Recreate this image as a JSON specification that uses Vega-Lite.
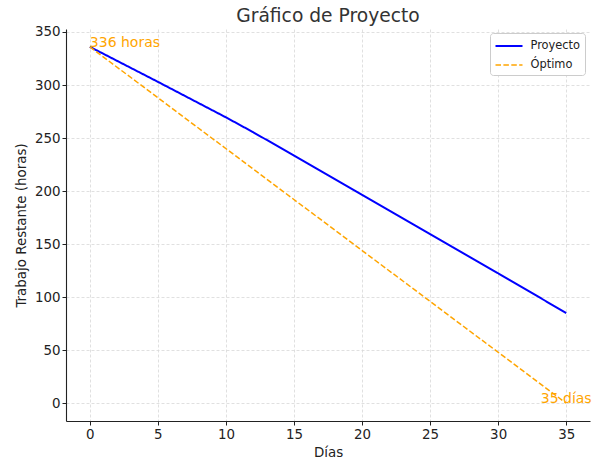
{
  "$schema": "https://vega.github.io/schema/vega-lite/v6.json",
  "width": 524,
  "height": 392,
  "autosize": {"type": "none"},
  "padding": {"left": 66, "top": 29, "right": 2, "bottom": 41},
  "background": "white",
  "title": {"text": "Gráfico de Proyecto", "fontSize": 18.7, "font": "DejaVu Sans", "fontWeight": "normal", "color": "#333333", "offset": -1, "anchor": "middle"},
  "config": {
    "view": {"stroke": null},
    "font": "DejaVu Sans",
    "axis": {
      "domainColor": "#222222", "tickColor": "#222222", "labelColor": "#222222", "titleColor": "#222222",
      "labelFontSize": 13.4, "titleFontSize": 13.4, "titleFontWeight": "normal", "labelFont": "DejaVu Sans", "titleFont": "DejaVu Sans",
      "tickSize": 4, "labelPadding": 2, "gridColor": "#d8d8d8", "gridDash": [3, 2], "gridWidth": 0.8, "domainWidth": 1.1, "tickWidth": 1
    }
  },
  "layer": [
    {
      "data": {"values": [
        {"dia": 0, "horas": 336, "serie": "Proyecto"},
        {"dia": 5, "horas": 303, "serie": "Proyecto"},
        {"dia": 10, "horas": 269.5, "serie": "Proyecto"},
        {"dia": 12, "horas": 255.5, "serie": "Proyecto"},
        {"dia": 15, "horas": 233.5, "serie": "Proyecto"},
        {"dia": 20, "horas": 196.5, "serie": "Proyecto"},
        {"dia": 25, "horas": 159.5, "serie": "Proyecto"},
        {"dia": 30, "horas": 122.5, "serie": "Proyecto"},
        {"dia": 35, "horas": 85, "serie": "Proyecto"},
        {"dia": 0, "horas": 336, "serie": "Óptimo"},
        {"dia": 35, "horas": 0, "serie": "Óptimo"}
      ]},
      "mark": {"type": "line"},
      "encoding": {
        "x": {"field": "dia", "type": "quantitative", "title": "Días",
              "scale": {"domain": [-1.75, 36.75], "nice": false, "zero": false},
              "axis": {"values": [0, 5, 10, 15, 20, 25, 30, 35], "titlePadding": 5, "grid": true}},
        "y": {"field": "horas", "type": "quantitative", "title": "Trabajo Restante (horas)",
              "scale": {"domain": [-16.8, 352.8], "nice": false, "zero": false},
              "axis": {"values": [0, 50, 100, 150, 200, 250, 300, 350], "titlePadding": 6, "grid": true}},
        "color": {"field": "serie", "type": "nominal", "title": null,
                  "scale": {"domain": ["Proyecto", "Óptimo"], "range": ["#0000ff", "#ffa500"]},
                  "legend": {"orient": "none", "legendX": 424, "legendY": 4, "fillColor": "white", "strokeColor": "#cccccc", "cornerRadius": 3,
                             "padding": 4.5, "symbolType": "M-1,0H2.6", "symbolSize": 225, "symbolStrokeWidth": 2, "labelFontSize": 11.4,
                             "labelColor": "#222222", "labelFont": "DejaVu Sans", "rowPadding": 5, "labelOffset": 19}},
        "strokeDash": {"field": "serie", "type": "nominal", "title": null,
                       "scale": {"domain": ["Proyecto", "Óptimo"], "range": [[1, 0], [5.5, 2.4]]}},
        "strokeWidth": {"field": "serie", "type": "nominal", "legend": null,
                        "scale": {"domain": ["Proyecto", "Óptimo"], "range": [2, 1.5]}}
      }
    },
    {
      "data": {"values": [{"dia": 0, "horas": 336, "texto": "336 horas"}]},
      "mark": {"type": "text", "align": "left", "baseline": "alphabetic", "color": "#ffa500", "fontSize": 14, "font": "DejaVu Sans"},
      "encoding": {
        "x": {"field": "dia", "type": "quantitative"},
        "y": {"field": "horas", "type": "quantitative"},
        "text": {"field": "texto"}
      }
    },
    {
      "data": {"values": [{"dia": 35, "horas": 0, "texto": "35 días"}]},
      "mark": {"type": "text", "align": "center", "baseline": "alphabetic", "color": "#ffa500", "fontSize": 14, "font": "DejaVu Sans"},
      "encoding": {
        "x": {"field": "dia", "type": "quantitative"},
        "y": {"field": "horas", "type": "quantitative"},
        "text": {"field": "texto"}
      }
    }
  ]
}
